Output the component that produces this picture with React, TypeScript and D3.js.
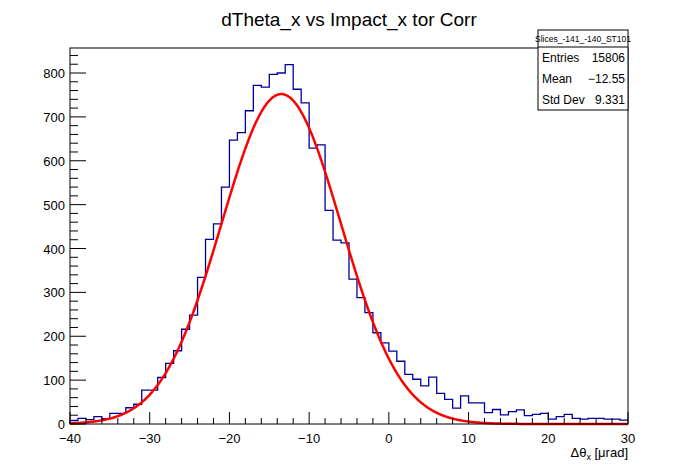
import {useEffect, useRef} from 'react';
import * as d3 from 'd3';

// bin low edges -40 .. 29, width 1
const binStarts = d3.range(-40, 30);
const counts = [
  8, 13, 10, 17, 12, 24, 24, 37, 45, 77, 77, 106, 138, 167, 216, 248, 334, 421, 456, 540,
  647, 664, 714, 772, 768, 797, 800, 819, 763, 732, 629, 636, 487, 419, 413, 330, 288, 254, 208, 185,
  166, 143, 113, 102, 87, 107, 70, 56, 36, 64, 48, 48, 26, 33, 21, 28, 32, 19, 22, 24,
  11, 17, 22, 13, 11, 13, 13, 11, 11, 9,
];
const fitAmp = 752;
const fitMean = -13.5;
const fitSigma = 7.5;
const statsRows = [
  ['Entries', '15806'],
  ['Mean', '\u221212.55'],
  ['Std Dev', '9.331'],
];

export default function App() {
  const ref = useRef<SVGSVGElement>(null);

  useEffect(() => {
    const W = 698, H = 471;
    const m = {left: 70, right: 70, top: 48, bottom: 47};
    const svg = d3.select(ref.current!);
    svg.selectAll('*').remove();
    svg.append('rect').attr('width', W).attr('height', H).attr('fill', '#fff');

    const x = d3.scaleLinear().domain([-40, 30]).range([m.left, W - m.right]);
    const y = d3.scaleLinear().domain([0, 857]).range([H - m.bottom, m.top]);
    const font = 'Liberation Sans, Arial, sans-serif';

    // histogram
    let path = `M${x(-40)},${y(0)}`;
    binStarts.forEach((b, i) => {
      path += `L${x(b)},${y(counts[i])}L${x(b + 1)},${y(counts[i])}`;
    });
    svg.append('path').attr('d', path).attr('fill', 'none').attr('stroke', '#000099').attr('stroke-width', 1.3);

    // fit
    const xs = d3.range(-40, 30.01, 0.1);
    const line = d3.line<number>().x((d) => x(d)).y((d) => y(fitAmp * Math.exp(-((d - fitMean) ** 2) / (2 * fitSigma ** 2))));
    svg.append('path').attr('d', line(xs)!).attr('fill', 'none').attr('stroke', '#ff0000').attr('stroke-width', 2.5);

    // frame
    svg.append('rect').attr('x', m.left).attr('y', m.top).attr('width', W - m.left - m.right)
      .attr('height', H - m.top - m.bottom).attr('fill', 'none').attr('stroke', '#000').attr('stroke-width', 1);

    const g = svg.append('g').attr('stroke', '#000').attr('stroke-width', 1);
    d3.range(-40, 30.01, 2).forEach((v) => {
      const len = v % 10 === 0 ? 12 : 6;
      g.append('line').attr('x1', x(v)).attr('x2', x(v)).attr('y1', y(0)).attr('y2', y(0) - len);
    });
    d3.range(0, 857, 20).forEach((v) => {
      const len = v % 100 === 0 ? 16 : 8;
      g.append('line').attr('x1', m.left).attr('x2', m.left + len).attr('y1', y(v)).attr('y2', y(v));
    });
    d3.range(-40, 30.01, 10).forEach((v) => {
      svg.append('text').attr('x', x(v)).attr('y', y(0) + 19).attr('text-anchor', 'middle')
        .attr('font-family', font).attr('font-size', 13).text(v < 0 ? `\u2212${-v}` : `${v}`);
    });
    d3.range(0, 801, 100).forEach((v) => {
      svg.append('text').attr('x', m.left - 5).attr('y', y(v) + 5).attr('text-anchor', 'end')
        .attr('font-family', font).attr('font-size', 13).text(v);
    });

    // axis label
    const lab = svg.append('text').attr('x', W - m.right).attr('y', 457).attr('text-anchor', 'end')
      .attr('font-family', font).attr('font-size', 13);
    lab.append('tspan').text('\u0394\u03b8');
    lab.append('tspan').attr('font-size', 9).attr('dy', 3).text('x');
    lab.append('tspan').attr('dy', -3).text(' [\u03bcrad]');

    // title
    svg.append('text').attr('x', W / 2).attr('y', 26).attr('text-anchor', 'middle')
      .attr('font-family', font).attr('font-size', 19).text('dTheta_x vs Impact_x tor Corr');

    // stats box
    const bx = 538, by = 30, bw = 90, rowH = 21;
    svg.append('rect').attr('x', bx).attr('y', by).attr('width', bw).attr('height', 17 + rowH * 3)
      .attr('fill', '#fff').attr('stroke', '#000');
    svg.append('line').attr('x1', bx).attr('x2', bx + bw).attr('y1', by + 17).attr('y2', by + 17).attr('stroke', '#000');
    svg.append('text').attr('x', bx + bw / 2).attr('y', by + 12).attr('text-anchor', 'middle')
      .attr('font-family', font).attr('font-size', 8.5).text('Slices_-141_-140_ST101');
    statsRows.forEach(([k, v], i) => {
      const ty = by + 17 + rowH * i + 15;
      svg.append('text').attr('x', bx + 4).attr('y', ty).attr('font-family', font).attr('font-size', 12).text(k);
      svg.append('text').attr('x', bx + bw - 3).attr('y', ty).attr('text-anchor', 'end')
        .attr('font-family', font).attr('font-size', 12).text(v);
    });
  }, []);

  return <svg ref={ref} width={698} height={471} style={{display: 'block', margin: '-8px'}} />;
}
